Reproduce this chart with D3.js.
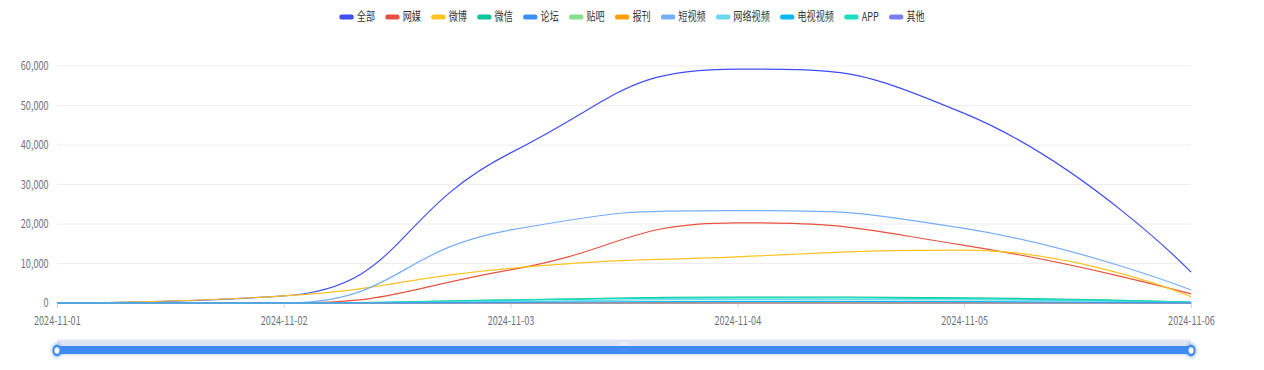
<!DOCTYPE html>
<html>
<head>
<meta charset="utf-8">
<script src="https://cdn.jsdelivr.net/npm/d3@7"></script>
<style>
  body { margin: 0; background: #fff; }
  text { font-family: "Noto Sans CJK SC", "Noto Sans", sans-serif; }
</style>
</head>
<body>
<div id="line-chart"></div>
<script>
const days = ["2024-11-01", "2024-11-02", "2024-11-03", "2024-11-04", "2024-11-05", "2024-11-06"];

const seriesNames = ["全部", "网媒", "微博", "微信", "论坛", "贴吧", "报刊", "短视频", "网络视频", "电视视频", "APP", "其他"];
const seriesColors = ["#3e4ef2", "#e8513f", "#fcc322", "#0fc69a", "#3f8ef5", "#86df8c", "#ffa00a", "#75aef7", "#6cd8f0", "#0bb8f2", "#1ddcc0", "#7b7ff0"];

const allValues   = [0, 1800, 38000, 59200, 48000, 7800];
const webMedia    = [0, 0, 8400, 20300, 14600, 2300];
const weibo       = [0, 1800, 8800, 11700, 13400, 1600];
const wechat      = [0, 0, 800, 1500, 1300, 200];
const forum       = [0, 0, 60, 150, 120, 20];
const tieba       = [0, 0, 30, 60, 50, 10];
const newspaper   = [0, 0, 15, 30, 20, 5];
const shortVideo  = [0, 0, 18500, 23400, 18900, 3300];
const webVideo    = [0, 0, 400, 900, 800, 100];
const tvVideo     = [0, 0, 150, 400, 350, 50];
const app         = [0, 0, 700, 1300, 1100, 200];
const others      = [0, 0, 0, 0, 0, 0];

const seriesValues = [allValues, webMedia, weibo, wechat, forum, tieba, newspaper, shortVideo, webVideo, tvVideo, app, others];
const yTicks = [0, 10000, 20000, 30000, 40000, 50000, 60000];

// bezier smoothing with control points kept between neighbours (no overshoot)
const smoothPath = (pts, smooth = 0.5) => {
    const path = d3.path();
    const clamp = (v, a, b) => Math.max(Math.min(v, Math.max(a, b)), Math.min(a, b));
    path.moveTo(pts[0][0], pts[0][1]);
    let cp0 = pts[0];
    for (let i = 1; i < pts.length; i++) {
        const [x, y] = pts[i];
        if (i === pts.length - 1) {
            path.bezierCurveTo(cp0[0], cp0[1], x, y, x, y);
            break;
        }
        const [px, py] = pts[i - 1];
        const [nx, ny] = pts[i + 1];
        let vx = nx - px, vy = ny - py;
        const lenPrev = Math.hypot(x - px, y - py) || 1e-6;
        const lenNext = Math.hypot(nx - x, ny - y) || 1e-6;
        const ratio = lenNext / (lenNext + lenPrev);
        let ncx = clamp(x + vx * smooth * ratio, nx, x);
        let ncy = clamp(y + vy * smooth * ratio, ny, y);
        vx = ncx - x; vy = ncy - y;
        const c1x = clamp(x - vx * lenPrev / lenNext, px, x);
        const c1y = clamp(y - vy * lenPrev / lenNext, py, y);
        vx = x - c1x; vy = y - c1y;
        ncx = x + vx * lenNext / lenPrev;
        ncy = y + vy * lenNext / lenPrev;
        path.bezierCurveTo(cp0[0], cp0[1], c1x, c1y, x, y);
        cp0 = [ncx, ncy];
    }
    return path.toString();
};

const drawLineChart = () => {
    // the chart is laid out wide and squeezed into the window
    const width = 1664;
    const height = 370;
    const margin = { top: 66, right: 96, bottom: 67, left: 75 };
    const innerWidth = width - margin.left - margin.right;
    const innerHeight = height - margin.top - margin.bottom;

    const xScale = d3.scalePoint()
        .domain(days)
        .range([0, innerWidth]);

    const yScale = d3.scaleLinear()
        .domain([0, 60000])
        .range([innerHeight, 0]);

    const svg = d3.select("#line-chart")
        .append("svg")
        .attr("width", 1264)
        .attr("height", height)
        .attr("viewBox", `0 0 ${width} ${height}`)
        .attr("preserveAspectRatio", "none")
        .style("display", "block");

    const innerChart = svg.append("g")
        .attr("transform", `translate(${margin.left},${margin.top})`);

    // grid lines
    innerChart.append("g")
        .selectAll("line")
        .data(yTicks.slice(1))
        .join("line")
            .attr("x1", 0)
            .attr("x2", innerWidth)
            .attr("y1", d => yScale(d))
            .attr("y2", d => yScale(d))
            .attr("stroke", "#eeeeee")
            .attr("vector-effect", "non-scaling-stroke");

    // axes
    const leftAxis = d3.axisLeft(yScale)
        .tickValues(yTicks)
        .tickSize(0)
        .tickPadding(11)
        .tickFormat(d3.format(","));

    const yAxis = innerChart.append("g").call(leftAxis);
    yAxis.select(".domain").remove();
    yAxis.selectAll("text")
        .attr("fill", "#6e7079")
        .style("font-size", "12px");

    const bottomAxis = d3.axisBottom(xScale)
        .tickSize(5)
        .tickPadding(8);

    const xAxis = innerChart.append("g")
        .attr("transform", `translate(0,${innerHeight})`)
        .call(bottomAxis);
    xAxis.select(".domain").attr("stroke", "#cfcfcf").attr("vector-effect", "non-scaling-stroke");
    xAxis.selectAll(".tick line").attr("stroke", "#d6d6d6").attr("vector-effect", "non-scaling-stroke");
    xAxis.selectAll("text")
        .attr("fill", "#6e7079")
        .style("font-size", "12px");

    // lines
    innerChart.selectAll(".series")
        .data(seriesValues)
        .join("path")
            .attr("class", "series")
            .attr("d", d => smoothPath(d.map((v, i) => [xScale(days[i]), yScale(v)])))
            .attr("fill", "none")
            .attr("stroke", (d, i) => seriesColors[i])
            .attr("stroke-width", 1.2)
            .attr("vector-effect", "non-scaling-stroke");

    // legend
    const legend = svg.append("g").attr("transform", "translate(0,17)");
    const items = legend.selectAll("g")
        .data(seriesNames)
        .join("g");
    items.append("rect")
        .attr("y", -2.5)
        .attr("width", 19)
        .attr("height", 5)
        .attr("rx", 2.5)
        .attr("fill", (d, i) => seriesColors[i]);
    items.append("text")
        .text(d => d)
        .attr("x", 23)
        .attr("dy", "0.35em")
        .attr("fill", "#333")
        .style("font-size", "12px");

    const gap = 13.5;
    const widths = items.nodes().map(n => 23 + n.querySelector("text").getComputedTextLength());
    const total = d3.sum(widths) + gap * (widths.length - 1);
    let cursor = width / 2 - total / 2;
    items.attr("transform", (d, i) => {
        const x = cursor;
        cursor += widths[i] + gap;
        return `translate(${x},0)`;
    });

    // range slider under the chart
    const slider = svg.append("g")
        .attr("transform", `translate(${margin.left},0)`);
    slider.append("rect")
        .attr("x", 0)
        .attr("y", 339.5)
        .attr("width", innerWidth)
        .attr("height", 16)
        .attr("rx", 2)
        .attr("fill", "#e0e5f3");
    slider.append("rect")
        .attr("x", 0)
        .attr("y", 346)
        .attr("width", innerWidth)
        .attr("height", 8)
        .attr("fill", "#3f8bf3");
    slider.append("g")
        .selectAll("line")
        .data([-3, 0, 3])
        .join("line")
            .attr("x1", d => innerWidth / 2 + d)
            .attr("x2", d => innerWidth / 2 + d)
            .attr("y1", 342.5)
            .attr("y2", 345)
            .attr("stroke", "#ffffff")
            .attr("vector-effect", "non-scaling-stroke");
    const handles = slider.selectAll(".handle")
        .data([0, innerWidth])
        .join("g")
            .attr("class", "handle")
            .attr("transform", d => `translate(${d},350.5)`);
    handles.append("circle").attr("r", 9).attr("fill", "#3f8bf3").attr("opacity", 0.18);
    handles.append("circle").attr("r", 6).attr("fill", "#3f8bf3");
    handles.append("circle").attr("r", 3.2).attr("fill", "#ffffff");
};

drawLineChart();
</script>
</body>
</html>
